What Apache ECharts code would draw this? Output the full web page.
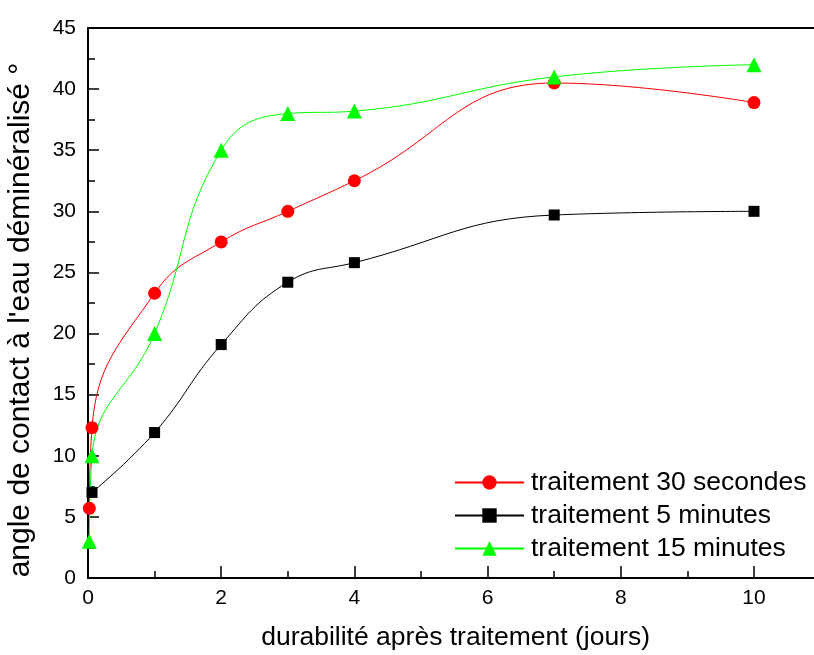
<!DOCTYPE html>
<html><head><meta charset="utf-8">
<script src="https://cdn.jsdelivr.net/npm/echarts@6/dist/echarts.min.js"></script>
<style>html,body{margin:0;padding:0;background:#fff}#c{width:814px;height:655px}</style>
</head><body><div id="c"></div>
<script>
const seriesNames = ['traitement 30 secondes', 'traitement 5 minutes', 'traitement 15 minutes'];
const x30s = [0.02, 0.06, 1, 2, 3, 4, 7, 10];
const y30s = [5.7, 12.3, 23.3, 27.5, 30.0, 32.5, 40.5, 38.9];
const x5m = [0.06, 1, 2, 3, 4, 7, 10];
const y5m = [7.0, 11.9, 19.1, 24.2, 25.8, 29.7, 30.0];
const x15m = [0.02, 0.06, 1, 2, 3, 4, 7, 10];
const y15m = [3.0, 10.0, 20.0, 35.0, 38.0, 38.2, 41.0, 42.0];
const xTitle = 'durabilité après traitement (jours)';
const yTitle = "angle de contact à l'eau déminéralisé °";

const zip = (xs, ys) => xs.map((x, i) => [x, ys[i]]);
const font = 'Liberation Sans';
const chart = echarts.init(document.getElementById('c'), null, {renderer: 'canvas'});
const mk = (name, data, color, symbol, size) => ({
  name, type: 'line', data, smooth: 0.45,
  symbol, symbolSize: size, showAllSymbol: true,
  lineStyle: {color, width: 1}, itemStyle: {color},
  z: 3
});
chart.setOption({
  animation: false,
  backgroundColor: '#fff',
  grid: {left: 88, top: 28, width: 799.2, height: 550, outerBoundsMode: 'none', containLabel: false},
  legend: {
    orient: 'vertical', left: 449, top: 464, itemWidth: 69, itemHeight: 18, itemGap: 6,
    textStyle: {fontFamily: font, fontSize: 26.5, color: '#000', padding: [0, 0, 0, 2]},
    data: seriesNames
  },
  xAxis: [{
    type: 'value', min: 0, max: 12, interval: 2,
    name: xTitle, nameLocation: 'middle', nameGap: 46,
    nameTextStyle: {fontFamily: font, fontSize: 26.5, color: '#000', padding: [0, 64, 0, 0]},
    axisLine: {show: true, lineStyle: {color: '#000', width: 2}},
    axisTick: {show: true, inside: true, length: 12, lineStyle: {color: '#000', width: 1.5}},
    minorTick: {show: true, splitNumber: 2, length: 7, lineStyle: {color: '#000', width: 1.5}},
    axisLabel: {fontFamily: font, fontSize: 21, color: '#000', margin: 10},
    splitLine: {show: false}
  }, {
    type: 'value', min: 0, max: 12, position: 'top',
    axisLine: {show: true, lineStyle: {color: '#000', width: 2}},
    axisTick: {show: false}, axisLabel: {show: false}, splitLine: {show: false}
  }],
  yAxis: {
    type: 'value', min: 0, max: 45, interval: 5,
    name: yTitle, nameLocation: 'middle', nameGap: 52,
    nameTextStyle: {fontFamily: font, fontSize: 30, color: '#000', padding: [0, 34, 0, 0]},
    axisLine: {show: true, lineStyle: {color: '#000', width: 2}},
    axisTick: {show: true, inside: true, length: 11, lineStyle: {color: '#000', width: 1.5}},
    minorTick: {show: true, splitNumber: 2, length: 7, lineStyle: {color: '#000', width: 1.5}},
    axisLabel: {fontFamily: font, fontSize: 21, color: '#000', margin: 12},
    splitLine: {show: false}
  },
  series: [
    mk(seriesNames[0], zip(x30s, y30s), '#ff0000', 'circle', 13),
    mk(seriesNames[1], zip(x5m, y5m), '#000000', 'rect', 11),
    mk(seriesNames[2], zip(x15m, y15m), '#00ff00', 'triangle', 15)
  ]
});
</script></body></html>
